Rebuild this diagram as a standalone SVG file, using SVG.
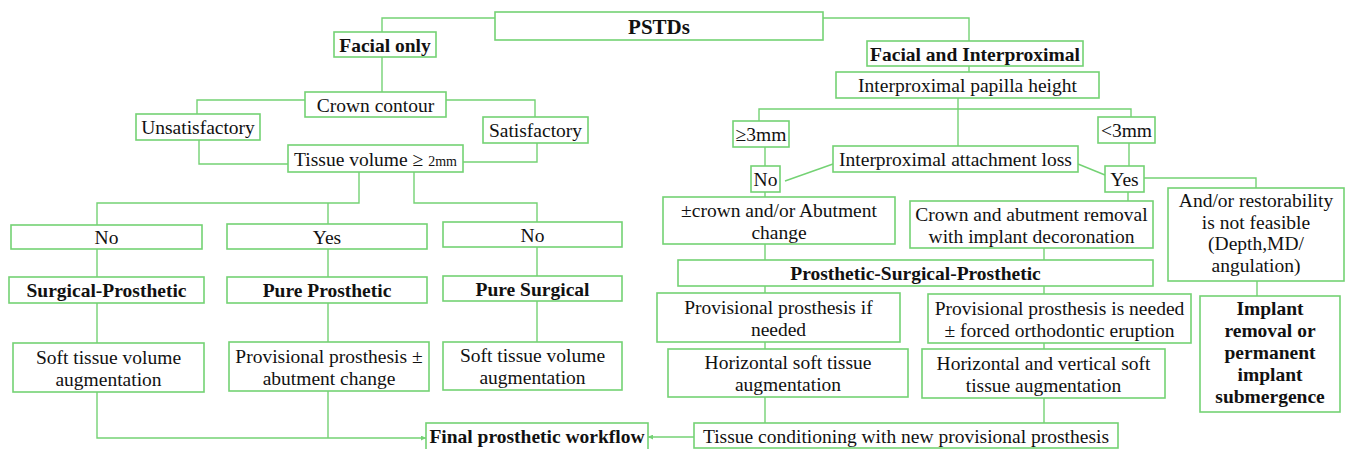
<svg xmlns="http://www.w3.org/2000/svg" width="1346" height="449" viewBox="0 0 1346 449" font-family="Liberation Serif, serif">
<style>
.b{fill:#fff;stroke:#74d274;stroke-width:1.6}
.l{fill:none;stroke:#74d274;stroke-width:1.4}
text{font-family:Liberation Serif,Times,serif;font-size:19.5px;fill:#111;text-anchor:middle}
.t{font-weight:bold}
</style>
<defs>
<marker id="ah" viewBox="0 0 6 6" refX="6" refY="3" markerWidth="5" markerHeight="5" orient="auto" markerUnits="userSpaceOnUse">
<path d="M0,0 L6,3 L0,6 z" fill="#74d274"/>
</marker>
</defs>
<rect width="1346" height="449" fill="#fff"/>
<g id="connectors">
<path class="l" d="M382,32 V18 H495"/>
<path class="l" d="M823,18 H969 V41"/>
<path class="l" d="M382,57 V92"/>
<path class="l" d="M305,100 H197 V114"/>
<path class="l" d="M446,100 H535 V117"/>
<path class="l" d="M199,140 V164 H288"/>
<path class="l" d="M537,143 V162 H463"/>
<path class="l" d="M359,172 V203 H97 V225"/>
<path class="l" d="M328,203 V224"/>
<path class="l" d="M414,172 V203 H537 V222"/>
<path class="l" d="M97,249 V277 M97,303 V343"/>
<path class="l" d="M328,249 V277 M328,303 V342"/>
<path class="l" d="M537,247 V276 M537,301 V342"/>
<path class="l" d="M97,392 V438 H426" marker-end="url(#ah)"/>
<path class="l" d="M328,391 V438"/>
<path class="l" d="M694,437 H648" marker-end="url(#ah)"/>
<path class="l" d="M969,66 V72"/>
<path class="l" d="M958,98 V146"/>
<path class="l" d="M759,121 V109 H1131 V117"/>
<path class="l" d="M765,147 V166"/>
<path class="l" d="M1129,143 V166"/>
<path class="l" d="M785,181 L833,164"/>
<path class="l" d="M1078,164 L1105,175"/>
<path class="l" d="M1144,178 H1256 V188"/>
<path class="l" d="M765,192 V197"/>
<path class="l" d="M1128,192 V201"/>
<path class="l" d="M1257,281 V296"/>
<path class="l" d="M765,244 V260 M765,286 V293 M765,342 V349 M765,397 V423"/>
<path class="l" d="M1044,248 V260 M1044,286 V294 M1044,343 V349 M1044,398 V423"/>
</g>
<g id="pstds"><rect class="b" x="495" y="12" width="328" height="28"/><text class="t" x="659" y="33.5" style="font-size:21px">PSTDs</text></g>
<g id="facial-only"><rect class="b" x="334" y="32" width="102" height="25"/><text class="t" x="385" y="51.5">Facial only</text></g>
<g id="facial-interproximal"><rect class="b" x="867" y="41" width="216" height="25"/><text class="t" x="975" y="60.5">Facial and Interproximal</text></g>
<g id="papilla"><rect class="b" x="836" y="72" width="263" height="26"/><text x="967.5" y="92">Interproximal papilla height</text></g>
<g id="crown-contour"><rect class="b" x="305" y="92" width="141" height="25"/><text x="375.5" y="111.5">Crown contour</text></g>
<g id="unsatisfactory"><rect class="b" x="136" y="114" width="124" height="26"/><text x="198" y="134">Unsatisfactory</text></g>
<g id="satisfactory"><rect class="b" x="483" y="117" width="105" height="26"/><text x="535.5" y="137">Satisfactory</text></g>
<g id="ge3mm"><rect class="b" x="733" y="121" width="56" height="26"/><text x="761" y="141">≥3mm</text></g>
<g id="lt3mm"><rect class="b" x="1098" y="117" width="57" height="26"/><text x="1126.5" y="137">&lt;3mm</text></g>
<g id="tissue-volume"><rect class="b" x="288" y="145" width="175" height="27"/><text x="375.5" y="165.5">Tissue volume ≥ <tspan style="font-size:14px">2mm</tspan></text></g>
<g id="attachment-loss"><rect class="b" x="833" y="146" width="245" height="26"/><text x="955.5" y="166">Interproximal attachment loss</text></g>
<g id="no-right"><rect class="b" x="751" y="166" width="29" height="26"/><text x="765.5" y="186">No</text></g>
<g id="yes-right"><rect class="b" x="1105" y="166" width="39" height="26"/><text x="1124.5" y="186">Yes</text></g>
<g id="crown-abutment-change"><rect class="b" x="663" y="197" width="232" height="47"/><text x="779" y="216.5">±crown and/or Abutment</text><text x="779" y="238.5">change</text></g>
<g id="crown-abutment-removal"><rect class="b" x="910" y="201" width="243" height="47"/><text x="1031.5" y="220.5">Crown and abutment removal</text><text x="1031.5" y="242.5">with implant decoronation</text></g>
<g id="restorability"><rect class="b" x="1168" y="188" width="176" height="93"/><text x="1256" y="207">And/or restorability</text><text x="1256" y="228.5">is not feasible</text><text x="1256" y="250">(Depth,MD/</text><text x="1256" y="271.5">angulation)</text></g>
<g id="no-1"><rect class="b" x="11" y="225" width="191" height="24"/><text x="106.5" y="244">No</text></g>
<g id="yes-1"><rect class="b" x="227" y="224" width="200" height="25"/><text x="327" y="243.5">Yes</text></g>
<g id="no-3"><rect class="b" x="443" y="222" width="179" height="25"/><text x="532.5" y="241.5">No</text></g>
<g id="psp"><rect class="b" x="678" y="260" width="475" height="26"/><text class="t" x="915.5" y="280">Prosthetic-Surgical-Prosthetic</text></g>
<g id="surgical-prosthetic"><rect class="b" x="9" y="277" width="195" height="26"/><text class="t" x="106.5" y="297">Surgical-Prosthetic</text></g>
<g id="pure-prosthetic"><rect class="b" x="227" y="277" width="200" height="26"/><text class="t" x="327" y="297">Pure Prosthetic</text></g>
<g id="pure-surgical"><rect class="b" x="443" y="276" width="179" height="25"/><text class="t" x="532.5" y="295.5">Pure Surgical</text></g>
<g id="prov-if-needed"><rect class="b" x="657" y="293" width="243" height="49"/><text x="778.5" y="313.5">Provisional prosthesis if</text><text x="778.5" y="335.5">needed</text></g>
<g id="prov-is-needed"><rect class="b" x="928" y="294" width="263" height="49"/><text x="1059.5" y="314.5">Provisional prosthesis is needed</text><text x="1059.5" y="336.5">± forced orthodontic eruption</text></g>
<g id="implant-removal"><rect class="b" x="1200" y="296" width="140" height="116"/><text class="t" x="1270" y="315">Implant</text><text class="t" x="1270" y="337">removal or</text><text class="t" x="1270" y="359">permanent</text><text class="t" x="1270" y="381">implant</text><text class="t" x="1270" y="403">submergence</text></g>
<g id="soft-tissue-1"><rect class="b" x="13" y="343" width="191" height="49"/><text x="108.5" y="363.5">Soft tissue volume</text><text x="108.5" y="385.5">augmentation</text></g>
<g id="prov-abutment"><rect class="b" x="229" y="342" width="200" height="49"/><text x="329" y="362.5">Provisional prosthesis ±</text><text x="329" y="384.5">abutment change</text></g>
<g id="soft-tissue-3"><rect class="b" x="443" y="342" width="179" height="48"/><text x="532.5" y="362">Soft tissue volume</text><text x="532.5" y="384">augmentation</text></g>
<g id="horizontal-soft"><rect class="b" x="668" y="349" width="240" height="48"/><text x="788" y="369">Horizontal soft tissue</text><text x="788" y="391">augmentation</text></g>
<g id="horizontal-vertical"><rect class="b" x="922" y="349" width="243" height="49"/><text x="1043.5" y="369.5">Horizontal and vertical soft</text><text x="1043.5" y="391.5">tissue augmentation</text></g>
<g id="tissue-conditioning"><rect class="b" x="694" y="423" width="424" height="25"/><text x="906" y="442.5">Tissue conditioning with new provisional prosthesis</text></g>
<g id="final-workflow"><rect class="b" x="426" y="423" width="222" height="27"/><text class="t" x="537" y="443">Final prosthetic workflow</text></g>
</svg>
